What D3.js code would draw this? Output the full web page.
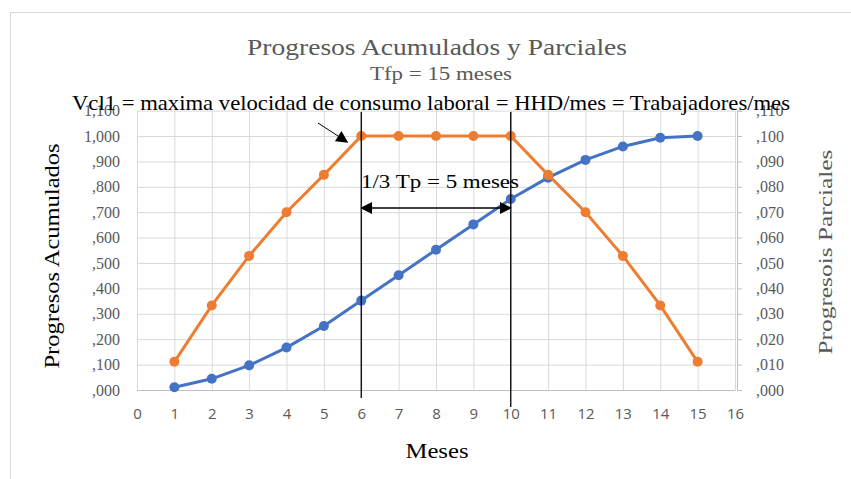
<!DOCTYPE html>
<html>
<head>
<meta charset="utf-8">
<script src="https://cdn.jsdelivr.net/npm/d3@7"></script>
<style>
  body { margin: 0; background: #fff; }
  text { font-family: "Liberation Serif", "DejaVu Serif", serif; }
</style>
</head>
<body>
<div id="chart"></div>
<script>
// months on the x axis
var meses = [1, 2, 3, 4, 5, 6, 7, 8, 9, 10, 11, 12, 13, 14, 15];
// blue series, left axis
var acumulados = [0.011, 0.044, 0.097, 0.167, 0.252, 0.352, 0.452, 0.552, 0.652, 0.752, 0.836, 0.906, 0.959, 0.993, 1.000];
// orange series, right axis
var parciales = [0.0111, 0.0333, 0.0528, 0.0700, 0.0847, 0.1000, 0.1000, 0.1000, 0.1000, 0.1000, 0.0847, 0.0700, 0.0528, 0.0333, 0.0111];
// tick labels
var xTicks = [0, 1, 2, 3, 4, 5, 6, 7, 8, 9, 10, 11, 12, 13, 14, 15, 16];
var leftTicks = [0, 0.1, 0.2, 0.3, 0.4, 0.5, 0.6, 0.7, 0.8, 0.9, 1.0, 1.1];
var leftLabels = [",000", ",100", ",200", ",300", ",400", ",500", ",600", ",700", ",800", ",900", "1,000", "1,100"];
var rightTicks = [0, 0.01, 0.02, 0.03, 0.04, 0.05, 0.06, 0.07, 0.08, 0.09, 0.10, 0.11];
var rightLabels = [",000", ",010", ",020", ",030", ",040", ",050", ",060", ",070", ",080", ",090", ",100", ",110"];
// the two marker months
var marcas = [6, 10];

var W = 851, H = 479;
var svg = d3.select("#chart").append("svg")
    .attr("width", W)
    .attr("height", H);

// chart frame
svg.append("rect")
    .attr("x", 10.5).attr("y", 12.5)
    .attr("width", W).attr("height", H)
    .attr("fill", "#fff")
    .attr("stroke", "#d9d9d9");

var x = d3.scaleLinear().domain([0, 16]).range([137, 735]);
var yL = d3.scaleLinear().domain([0, 1.1]).range([390, 110.6]);
var yR = d3.scaleLinear().domain([0, 0.11]).range([390, 110.6]);

var grid = "#d9d9d9", gray = "#595959";

//----------------- gridlines -----------------
svg.append("g")
    .attr("transform", "translate(0,390)")
    .call(d3.axisBottom(x).tickValues(xTicks).tickSize(-(390 - 110.6)).tickFormat(""))
    .call(g => g.select(".domain").remove())
    .selectAll("line").attr("stroke", grid);

svg.append("g")
    .attr("transform", "translate(137,0)")
    .call(d3.axisLeft(yL).tickValues(leftTicks).tickSize(-(735 - 137)).tickFormat(""))
    .call(g => g.select(".domain").remove())
    .selectAll("line").attr("stroke", grid);

// bottom axis line + labels
var xAxis = svg.append("g")
    .attr("transform", "translate(0,390)")
    .call(d3.axisBottom(x).tickValues(xTicks).tickSize(0).tickPadding(18));
xAxis.select(".domain").attr("stroke", "#bfbfbf");
xAxis.selectAll("text")
    .style("font-family", "'Open Sans', 'Liberation Sans', sans-serif")
    .style("font-size", "15px")
    .attr("fill", gray);

// left axis labels
var lAxis = svg.append("g")
    .attr("transform", "translate(137,0)")
    .call(d3.axisLeft(yL).tickValues(leftTicks).tickSize(0).tickPadding(17)
        .tickFormat((d, i) => leftLabels[i]));
lAxis.select(".domain").remove();
lAxis.selectAll("text").style("font-size", "16px").attr("fill", gray);

// right axis
var rAxis = svg.append("g")
    .attr("transform", "translate(737,0)")
    .call(d3.axisRight(yR).tickValues(rightTicks).tickSize(5).tickPadding(14)
        .tickFormat((d, i) => rightLabels[i]));
rAxis.select(".domain").attr("stroke", "#bfbfbf");
rAxis.selectAll("line").attr("stroke", "#bfbfbf");
rAxis.selectAll("text").style("font-size", "16px").attr("fill", gray);

//----------------- series -----------------
var blue = "#4472c4", orange = "#ed7d31";

var lineL = d3.line().x((d, i) => x(meses[i])).y(d => yL(d));
var lineR = d3.line().x((d, i) => x(meses[i])).y(d => yR(d));

svg.append("path").datum(acumulados)
    .attr("d", lineL).attr("fill", "none")
    .attr("stroke", blue).attr("stroke-width", 3);
svg.selectAll(".pb").data(acumulados).enter().append("circle")
    .attr("class", "pb")
    .attr("cx", (d, i) => x(meses[i])).attr("cy", d => yL(d))
    .attr("r", 5).attr("fill", blue);

svg.append("path").datum(parciales)
    .attr("d", lineR).attr("fill", "none")
    .attr("stroke", orange).attr("stroke-width", 3);
svg.selectAll(".po").data(parciales).enter().append("circle")
    .attr("class", "po")
    .attr("cx", (d, i) => x(meses[i])).attr("cy", d => yR(d))
    .attr("r", 5).attr("fill", orange);

//----------------- annotations -----------------
svg.append("defs").append("marker")
    .attr("id", "head")
    .attr("viewBox", "0 0 10 10")
    .attr("refX", 9).attr("refY", 5)
    .attr("markerWidth", 14).attr("markerHeight", 12)
    .attr("markerUnits", "userSpaceOnUse")
    .attr("orient", "auto-start-reverse")
    .append("path").attr("d", "M0,0 L10,5 L0,10 Z").attr("fill", "#000");

// vertical marker lines at month 6 and 10
svg.selectAll(".vm").data(marcas).enter().append("line")
    .attr("class", "vm")
    .attr("x1", d => x(d)).attr("x2", d => x(d))
    .attr("y1", 112).attr("y2", (d, i) => i === 0 ? 398 : 407)
    .attr("stroke", "#000").attr("stroke-width", 1.3);

// double arrow between the marker months
svg.append("line")
    .attr("x1", x(marcas[0])).attr("x2", x(marcas[1]))
    .attr("y1", 208).attr("y2", 208)
    .attr("stroke", "#000").attr("stroke-width", 1.5)
    .attr("marker-start", "url(#head)")
    .attr("marker-end", "url(#head)");

// pointer arrow towards the peak
svg.append("line")
    .attr("x1", 318).attr("y1", 123)
    .attr("x2", x(marcas[0]) - 14).attr("y2", yR(parciales[5]) + 6)
    .attr("stroke", "#000").attr("stroke-width", 1)
    .attr("marker-end", "url(#head)");

svg.append("text")
    .attr("x", 361).attr("y", 188)
    .attr("textLength", 158).attr("lengthAdjust", "spacingAndGlyphs")
    .style("font-size", "19px").attr("fill", "#000")
    .text("1/3 Tp = 5 meses");

//----------------- titles -----------------
svg.append("text")
    .attr("x", 437).attr("y", 55).attr("text-anchor", "middle")
    .attr("textLength", 380).attr("lengthAdjust", "spacingAndGlyphs")
    .style("font-size", "23px").attr("fill", gray)
    .text("Progresos Acumulados y Parciales");

svg.append("text")
    .attr("x", 441).attr("y", 80).attr("text-anchor", "middle")
    .attr("textLength", 142).attr("lengthAdjust", "spacingAndGlyphs")
    .style("font-size", "18px").attr("fill", gray)
    .text("Tfp = 15 meses");

svg.append("text")
    .attr("x", 72).attr("y", 110)
    .attr("textLength", 718).attr("lengthAdjust", "spacingAndGlyphs")
    .style("font-size", "21px").attr("fill", "#000")
    .text("Vcl1 = maxima velocidad de consumo laboral = HHD/mes = Trabajadores/mes");

svg.append("text")
    .attr("transform", "translate(59,256) rotate(-90)")
    .attr("text-anchor", "middle")
    .attr("textLength", 225).attr("lengthAdjust", "spacingAndGlyphs")
    .style("font-size", "21px").attr("fill", "#000")
    .text("Progresos Acumulados");

svg.append("text")
    .attr("transform", "translate(832,252) rotate(-90)")
    .attr("text-anchor", "middle")
    .attr("textLength", 205).attr("lengthAdjust", "spacingAndGlyphs")
    .style("font-size", "19px").attr("fill", gray)
    .text("Progresois Parciales");

svg.append("text")
    .attr("x", 437).attr("y", 458).attr("text-anchor", "middle")
    .attr("textLength", 63).attr("lengthAdjust", "spacingAndGlyphs")
    .style("font-size", "20px").attr("fill", "#000")
    .text("Meses");
</script>
</body>
</html>
